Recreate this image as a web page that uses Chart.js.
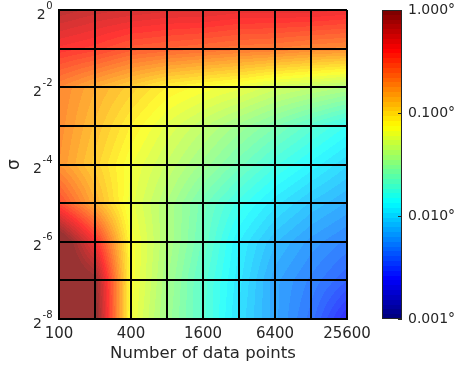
<!DOCTYPE html>
<html><head><meta charset="utf-8">
<script src="https://cdn.jsdelivr.net/npm/chart.js@4/dist/chart.umd.min.js"></script>
<style>
html,body{margin:0;padding:0;background:#fff;}
#wrap{position:relative;width:454px;height:366px;}
#wrap canvas{position:absolute;left:0;top:0;}
</style></head><body>
<div id="wrap"><canvas id="c1" width="454" height="366"></canvas><canvas id="c2" width="454" height="366"></canvas></div>
<script>
// ---- data ----
const nPoints = [100, 200, 400, 800, 1600, 3200, 6400, 12800, 25600];
const sigmaExps = [0, -1, -2, -3, -4, -5, -6, -7, -8];
const xTickLabels = ['100', '400', '1600', '6400', '25600'];
const yTickExps = [0, -2, -4, -6, -8];
const cbTicks = [0.001, 0.01, 0.1, 1];
// error (degrees), one array per sigma row (2^0 ... 2^-8), values along nPoints
const err_s0 = [0.71, 0.62, 0.58, 0.54, 0.54, 0.50, 0.50, 0.50, 0.47];
const err_s1 = [0.41, 0.36, 0.29, 0.27, 0.25, 0.23, 0.22, 0.20, 0.19];
const err_s2 = [0.20, 0.145, 0.11, 0.083, 0.072, 0.063, 0.051, 0.045, 0.039];
const err_s3 = [0.19, 0.126, 0.083, 0.059, 0.045, 0.034, 0.026, 0.0195, 0.0148];
const err_s4 = [0.178, 0.11, 0.068, 0.048, 0.034, 0.024, 0.017, 0.0129, 0.0098];
const err_s5 = [0.33, 0.145, 0.063, 0.039, 0.024, 0.0158, 0.0112, 0.0085, 0.0069];
const err_s6 = [1.41, 0.44, 0.072, 0.039, 0.0224, 0.0120, 0.0079, 0.0060, 0.0049];
const err_s7 = [1.41, 1.0, 0.072, 0.036, 0.0195, 0.0112, 0.0065, 0.0049, 0.0037];
const err_s8 = [1.41, 1.15, 0.068, 0.034, 0.0195, 0.0105, 0.0065, 0.0043, 0.0023];
const errRows = [err_s0, err_s1, err_s2, err_s3, err_s4, err_s5, err_s6, err_s7, err_s8];

const sigmas = sigmaExps.map(e => Math.pow(2, e));
const FONT = 'DejaVu Sans';
const TXT = '#262626';
const ALPHA = 0.8;

function jet(t) {
  const c = v => Math.max(0, Math.min(1, v));
  return [c(Math.min(4 * t - 1.5, -4 * t + 4.5)), c(Math.min(4 * t - 0.5, -4 * t + 3.5)), c(Math.min(4 * t + 0.5, -4 * t + 2.5))];
}
function quant(t) {
  t = Math.max(0, Math.min(1, t));
  return Math.min(63, Math.floor(t * 64)) / 63;
}
function locate(arrLog, lv) {
  const n = arrLog.length;
  const asc = arrLog[n - 1] > arrLog[0];
  for (let i = 0; i < n - 1; i++) {
    const a = arrLog[i], b = arrLog[i + 1];
    const inside = asc ? (lv <= b || i === n - 2) : (lv >= b || i === n - 2);
    if (inside) {
      let f = (lv - a) / (b - a);
      f = Math.max(0, Math.min(1, f));
      return [i, f];
    }
  }
  return [n - 2, 1];
}
const cbLogMin = Math.log10(cbTicks[0]);
const cbLogMax = Math.log10(cbTicks[cbTicks.length - 1]);

const heatPlugin = {
  id: 'heat',
  beforeDraw(chart) {
    const { ctx, chartArea: a, scales } = chart;
    const xs = scales.x, ys = scales.y;
    const L = Math.round(a.left), T = Math.round(a.top);
    const w = Math.round(a.right) - L, h = Math.round(a.bottom) - T;
    const off = document.createElement('canvas');
    off.width = w; off.height = h;
    const octx = off.getContext('2d');
    const img = octx.createImageData(w, h);
    const lx = nPoints.map(v => Math.log10(v));
    const ly = sigmas.map(v => Math.log10(v));
    const lz = errRows.map(r => r.map(v => Math.log10(v)));
    const colLoc = [], rowLoc = [];
    for (let px = 0; px < w; px++) colLoc.push(locate(lx, Math.log10(xs.getValueForPixel(L + px + 0.5))));
    for (let py = 0; py < h; py++) rowLoc.push(locate(ly, Math.log10(ys.getValueForPixel(T + py + 0.5))));
    for (let py = 0; py < h; py++) {
      const [j, fy] = rowLoc[py];
      for (let px = 0; px < w; px++) {
        const [i, fx] = colLoc[px];
        const v = (1 - fy) * ((1 - fx) * lz[j][i] + fx * lz[j][i + 1]) + fy * ((1 - fx) * lz[j + 1][i] + fx * lz[j + 1][i + 1]);
        const t = (v - cbLogMin) / (cbLogMax - cbLogMin);
        const c = jet(quant(t));
        const k = (py * w + px) * 4;
        img.data[k] = Math.round(255 * (ALPHA * c[0] + 1 - ALPHA));
        img.data[k + 1] = Math.round(255 * (ALPHA * c[1] + 1 - ALPHA));
        img.data[k + 2] = Math.round(255 * (ALPHA * c[2] + 1 - ALPHA));
        img.data[k + 3] = 255;
      }
    }
    octx.putImageData(img, 0, 0);
    ctx.drawImage(off, L, T);
  },
  afterDraw(chart) {
    const { ctx, scales } = chart;
    const ys = scales.y;
    const right = 52.5;
    ctx.save();
    ctx.fillStyle = TXT;
    ctx.textAlign = 'left';
    ctx.textBaseline = 'alphabetic';
    yTickExps.forEach(e => {
      const py = ys.getPixelForValue(Math.pow(2, e));
      const sup = String(e);
      ctx.font = '10px "' + FONT + '"';
      const sw = ctx.measureText(sup).width;
      ctx.font = '14px "' + FONT + '"';
      const bw = ctx.measureText('2').width;
      ctx.fillText('2', right - sw - bw - 0.5, py + 8.5);
      ctx.font = '10px "' + FONT + '"';
      ctx.fillText(sup, right - sw, py - 1.5);
    });
    ctx.restore();
  }
};

const vertexPoints = [];
errRows.forEach((r, j) => r.forEach((v, i) => vertexPoints.push({ x: nPoints[i], y: sigmas[j], v })));

new Chart(document.getElementById('c1'), {
  type: 'scatter',
  data: { datasets: [{ data: vertexPoints, pointRadius: 0, pointHoverRadius: 0 }] },
  options: {
    responsive: false, animation: false, devicePixelRatio: 1,
    layout: { padding: { left: 0, top: 10, right: 107, bottom: 0 } },
    plugins: { legend: { display: false }, tooltip: { enabled: false } },
    scales: {
      x: {
        type: 'logarithmic', min: nPoints[0], max: nPoints[nPoints.length - 1],
        afterBuildTicks: s => { s.ticks = nPoints.map(v => ({ value: v })); },
        afterFit: s => { s.height = 47; },
        grid: { color: '#000', lineWidth: 2, drawTicks: false },
        border: { display: true, color: '#000', width: 2 },
        ticks: {
          autoSkip: false, maxRotation: 0, minRotation: 0, padding: 6, color: TXT,
          font: { family: FONT, size: 15 },
          callback: v => xTickLabels.includes(String(v)) ? String(v) : ''
        },
        title: { display: true, text: 'Number of data points', color: TXT, font: { family: FONT, size: 16.5 }, padding: { top: 0, bottom: 2.5 } }
      },
      y: {
        type: 'logarithmic', min: sigmas[sigmas.length - 1], max: sigmas[0],
        afterBuildTicks: s => { s.ticks = sigmas.map(v => ({ value: v })); },
        afterFit: s => { s.width = 59; },
        grid: { color: '#000', lineWidth: 2, drawTicks: false },
        border: { display: true, color: '#000', width: 2 },
        ticks: { display: false },
        title: { display: true, text: 'σ', color: TXT, font: { family: FONT, size: 17 }, padding: { top: 4, bottom: 0 } }
      }
    }
  },
  plugins: [heatPlugin]
});

const cbPlugin = {
  id: 'cbar',
  beforeDraw(chart) {
    const { ctx, chartArea: a, scales } = chart;
    const ys = scales.y;
    ctx.save();
    for (let py = Math.round(a.top); py < Math.round(a.bottom); py++) {
      const v = ys.getValueForPixel(py + 0.5);
      const t = (Math.log10(v) - cbLogMin) / (cbLogMax - cbLogMin);
      const c = jet(quant(t));
      ctx.fillStyle = 'rgb(' + Math.round(c[0] * 255) + ',' + Math.round(c[1] * 255) + ',' + Math.round(c[2] * 255) + ')';
      ctx.fillRect(Math.round(a.left), py, Math.round(a.right) - Math.round(a.left), 1);
    }
    ctx.strokeStyle = TXT;
    ctx.lineWidth = 1;
    ctx.strokeRect(Math.round(a.left) + 0.5, Math.round(a.top) + 0.5, Math.round(a.right) - Math.round(a.left) - 1, Math.round(a.bottom) - Math.round(a.top) - 1);
    ctx.beginPath();
    cbTicks.forEach(v => {
      const py = Math.round(ys.getPixelForValue(v)) + 0.5;
      ctx.moveTo(Math.round(a.right) - 4, py);
      ctx.lineTo(Math.round(a.right), py);
    });
    ctx.stroke();
    ctx.restore();
  }
};

new Chart(document.getElementById('c2'), {
  type: 'scatter',
  data: { datasets: [{ data: [] }] },
  options: {
    responsive: false, animation: false, devicePixelRatio: 1,
    layout: { padding: { left: 382, top: 10, right: 0, bottom: 47 } },
    plugins: { legend: { display: false }, tooltip: { enabled: false } },
    scales: {
      x: { display: false },
      y: {
        type: 'logarithmic', position: 'right', min: cbTicks[0], max: cbTicks[cbTicks.length - 1],
        afterBuildTicks: s => { s.ticks = cbTicks.map(v => ({ value: v })); },
        afterFit: s => { s.width = 52; },
        grid: { display: true, drawOnChartArea: false, drawTicks: true, tickLength: 6, color: 'rgba(0,0,0,0)' },
        border: { display: false },
        ticks: { padding: 0, color: TXT, font: { family: FONT, size: 14 }, autoSkip: false, callback: v => Number(v).toFixed(3) + '°' }
      }
    }
  },
  plugins: [cbPlugin]
});
</script>
</body></html>
